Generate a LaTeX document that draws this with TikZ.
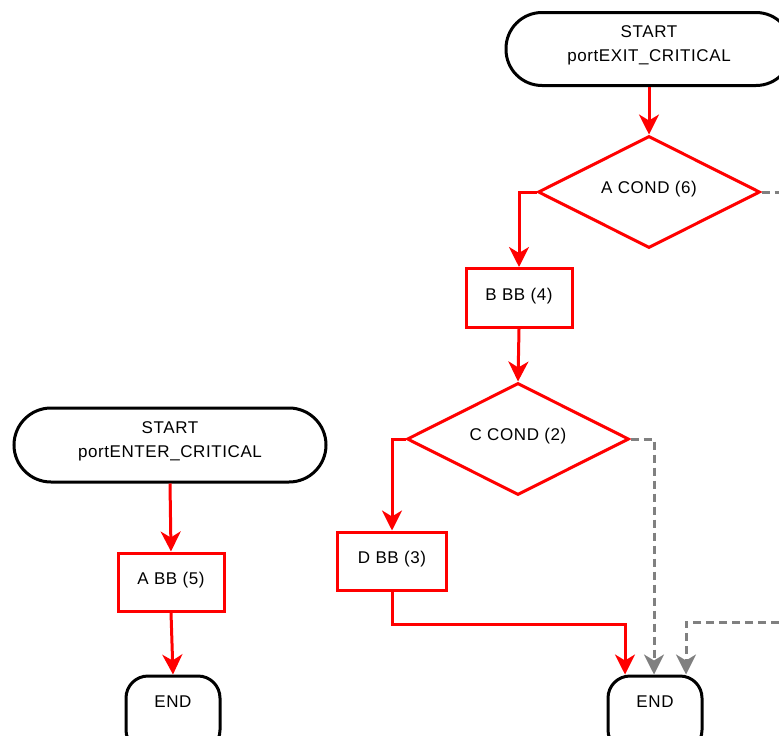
\documentclass[tikz,border=0pt]{standalone}
\usepackage{fontspec}
\setmainfont{Liberation Sans}[LetterSpace=3.5]
\usetikzlibrary{shapes.geometric,arrows.meta,calc}

\definecolor{flowred}{RGB}{255,0,0}
\definecolor{flowgrey}{RGB}{128,128,128}

\tikzset{
  txt/.style={font=\fontsize{17}{24}\selectfont, align=center},
  terminal/.style={draw=black, line width=3pt, rectangle, fill=white,
    minimum width=#1, inner sep=0pt},
  block/.style={draw=flowred, line width=3pt, rectangle, fill=white,
    inner sep=0pt},
  decision/.style={draw=flowred, line width=3pt, diamond, fill=white,
    inner sep=0pt, minimum width=222pt, minimum height=112pt},
  flow/.style={draw=flowred, line width=3pt,
    -{Stealth[length=20pt,width=20pt,inset=6pt]}},
  other/.style={draw=flowgrey, line width=3pt, dash pattern=on 8pt off 5pt,
    -{Stealth[length=20pt,width=20pt,inset=6pt]}},
  otherplain/.style={draw=flowgrey, line width=3pt, dash pattern=on 8pt off 5pt}
}

\begin{document}
\begin{tikzpicture}[x=1pt, y=-1pt]
  \useasboundingbox (0,0) rectangle (779,736);
  \clip (0,0) rectangle (779,736);

  % ---- portENTER_CRITICAL ----
  \node[terminal=312pt, minimum height=74pt, rounded corners=37pt,
        label={[txt, yshift=4pt]center:START\\portENTER\_CRITICAL}]
        (s1) at (170,445) {};
  \node[block, minimum width=106pt, minimum height=58pt,
        label={[txt, yshift=2pt]center:A BB (5)}]
        (ab) at (171,582) {};
  \node[terminal=94pt, minimum height=76pt, rounded corners=22pt,
        label={[txt, yshift=12pt]center:END}]
        (e1) at (173,714) {};

  \draw[flow] (s1.south) -- (ab.north);
  \draw[flow] (ab.south) -- (e1.north);

  % ---- portEXIT_CRITICAL ----
  \node[terminal=286pt, minimum height=73pt, rounded corners=36pt,
        label={[txt, yshift=4pt]center:START\\portEXIT\_CRITICAL}]
        (s2) at (649,49) {};
  \node[decision, label={[txt, yshift=3pt]center:A COND (6)}]
        (a) at (649,192) {};
  \node[block, minimum width=106pt, minimum height=59pt,
        label={[txt, yshift=2pt]center:B BB (4)}]
        (b) at (519,298) {};
  \node[decision, label={[txt, yshift=3pt]center:C COND (2)}]
        (c) at (518,439) {};
  \node[block, minimum width=109pt, minimum height=58pt,
        label={[txt, yshift=2pt]center:D BB (3)}]
        (d) at (392,561) {};
  \node[terminal=94pt, minimum height=76pt, rounded corners=22pt,
        label={[txt, yshift=12pt]center:END}]
        (e2) at (655,714) {};

  \coordinate (offa) at (779,192);
  \coordinate (offr) at (779,622);

  \draw[flow] (s2.south) -- (a.north);
  \draw[flow] (a.west) -| (b.north);
  \draw[flow] (b.south) -- (c.north);
  \draw[flow] (c.west) -| (d.north);
  \draw[flow] (d.south) -- ++(0,33) -| ([xshift=-30pt]e2.north);
  \draw[other] (c.east) -| ([xshift=-1pt]e2.north);
  \draw[other] (offr) -| ([xshift=31pt]e2.north);
  \draw[otherplain] (a.east) -- (offa);
\end{tikzpicture}
\end{document}
